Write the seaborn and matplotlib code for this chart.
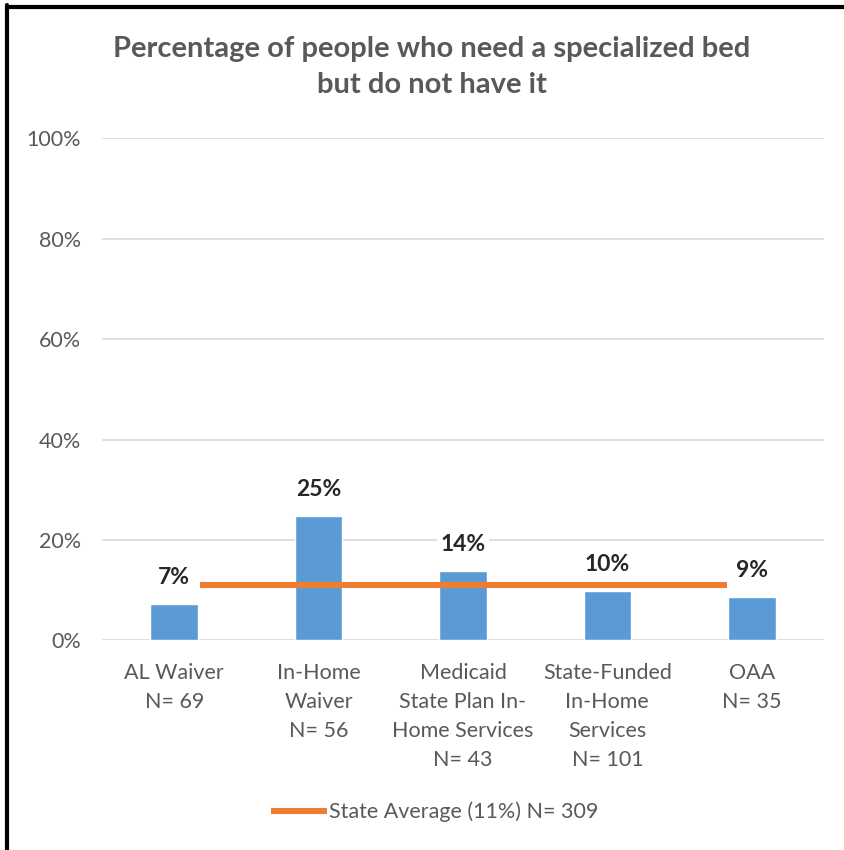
import matplotlib
matplotlib.use("Agg")
import matplotlib.pyplot as plt
import seaborn as sns
import pandas as pd
from matplotlib.lines import Line2D

# chart values
programs = [
    "AL Waiver\nN= 69",
    "In-Home\nWaiver\nN= 56",
    "Medicaid\nState Plan In-\nHome Services\nN= 43",
    "State-Funded\nIn-Home\nServices\nN= 101",
    "OAA\nN= 35",
]
pct_need_bed = [0.072, 0.248, 0.138, 0.098, 0.086]
bar_labels = ["7%", "25%", "14%", "10%", "9%"]
state_avg = 0.11
state_avg_label = "State Average (11%) N= 309"
yticks = [0, 0.2, 0.4, 0.6, 0.8, 1.0]
ytick_labels = ["0%", "20%", "40%", "60%", "80%", "100%"]

sns.set_style("white")
plt.rcParams["font.family"] = ["Lato", "DejaVu Sans"]

grey = "#595959"
blue = "#5b9bd5"
orange = "#ed7d31"

df = pd.DataFrame({"program": programs, "pct": pct_need_bed})

fig = plt.figure(figsize=(8.45, 8.5), dpi=100)
ax = fig.add_axes([0.1207, 0.2465, 0.8544, 0.5908])

sns.barplot(data=df, x="program", y="pct", color=blue, width=0.33,
            saturation=1, ax=ax, zorder=2)

# state average line
ax.plot([0.18, 3.83], [state_avg, state_avg], color=orange, lw=4.4,
        solid_capstyle="butt", zorder=3)

# data labels
for i, (v, lab) in enumerate(zip(pct_need_bed, bar_labels)):
    ax.annotate(lab, (i, v), xytext=(0, 19), textcoords="offset points",
                ha="center", va="center", fontsize=16.5, fontweight="bold",
                color="#262626", zorder=4,
                bbox=dict(boxstyle="square,pad=0.15", fc="white", ec="none"))

ax.set_xlim(-0.5, 4.5)
ax.set_ylim(0, 1.0)
ax.set_yticks(yticks)
ax.set_yticklabels(ytick_labels)
ax.yaxis.grid(True, color="#d9d9d9", lw=1.2, zorder=0)
ax.set_axisbelow(True)
for s in ax.spines.values():
    s.set_visible(False)
ax.tick_params(axis="both", length=0, labelsize=15.5, labelcolor=grey)
ax.tick_params(axis="y", pad=15)
ax.tick_params(axis="x", pad=16)
for t in ax.get_xticklabels():
    t.set_linespacing(1.57)
ax.set_xlabel("")
ax.set_ylabel("")

fig.text(0.511, 0.921, "Percentage of people who need a specialized bed\nbut do not have it",
         ha="center", va="center", fontsize=21, fontweight="bold",
         color=grey, linespacing=1.45)

handle = Line2D([], [], color=orange, lw=4.4, solid_capstyle="butt")
fig.legend(handles=[handle], labels=[state_avg_label], loc="center",
           bbox_to_anchor=(0.514, 0.045), frameon=False, fontsize=15.5,
           handlelength=2.6, handletextpad=0.1, labelcolor=grey)

# frame lines around the picture (top and left)
fig.add_artist(Line2D([0.008, 0.008], [0, 0.994], color="black", lw=3,
                      transform=fig.transFigure))
fig.add_artist(Line2D([0.008, 1.0], [0.992, 0.992], color="black", lw=3,
                      transform=fig.transFigure))

fig.savefig("out.png", dpi=100, facecolor="white")
